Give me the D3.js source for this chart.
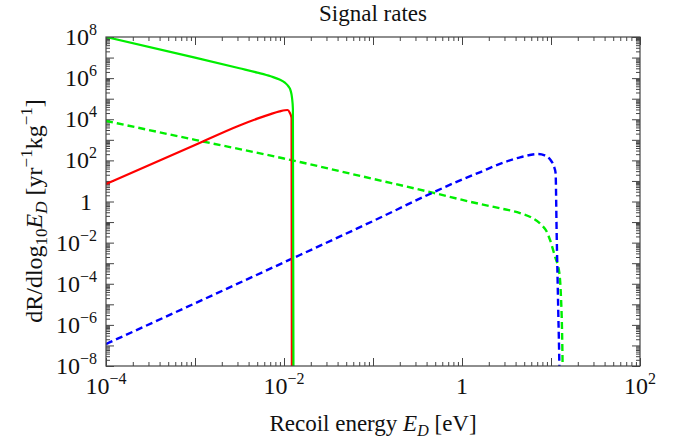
<!DOCTYPE html>
<html><head><meta charset="utf-8">
<script src="https://cdn.jsdelivr.net/npm/d3@7"></script>
<style>
body{margin:0;background:#fff;}
svg{display:block;font-family:"Liberation Serif","Times New Roman",serif;}
</style></head><body>
<svg id="chart" width="681" height="441"></svg>
<script>
// ---------- data ----------
const chartTitle = "Signal rates";
const xDomain = [1e-4, 1e2];
const yDomain = [1e-8, 1e8];
const xLabelValues = [1e-4, 1e-2, 1, 1e2];
const xLabelExps   = ["−4", "−2", "", "2"];
const yLabelValues = [1e8, 1e6, 1e4, 1e2, 1, 1e-2, 1e-4, 1e-6, 1e-8];
const yLabelExps   = ["8", "6", "4", "2", "", "−2", "−4", "−6", "−8"];

// green solid
const greenSolidE = [1e-4, 1e-3, 3.16e-3, 5.01e-3, 7.08e-3, 8.91e-3, 1.023e-2, 1.122e-2, 1.189e-2, 1.23e-2, 1.259e-2, 1.28e-2];
const greenSolidR = [1e8, 1e7, 3.02e6, 1.86e6, 1.23e6, 8.5e5, 6.0e5, 3.98e5, 2.4e5, 1.12e5, 3.16e4, 1e-10];
// red solid
const redSolidE = [1e-4, 1e-3, 3.16e-3, 5.01e-3, 7.08e-3, 8.91e-3, 1.023e-2, 1.096e-2, 1.161e-2, 1.216e-2, 1.227e-2];
const redSolidR = [7.1, 560, 5000, 1.07e4, 1.78e4, 2.4e4, 2.75e4, 2.82e4, 2.09e4, 1.17e4, 1e-10];
// green dashed
const greenDashE = [1e-4, 1e-3, 1e-2, 1.51e-2, 0.1, 0.468, 1.585, 2.67, 4.49, 6.03, 7.83, 8.91, 9.75, 11.09, 12.42, 12.94, 13.30, 13.49, 13.65];
const greenDashR = [8300, 1000, 123, 83, 12.6, 2.69, 0.76, 0.468, 0.275, 0.166, 0.0724, 0.0355, 0.0135, 2.09e-3, 3.24e-4, 2.34e-5, 5.6e-7, 1.38e-8, 1e-10];
// blue dashed
const blueDashE = [1e-4, 1e-3, 1e-2, 1.51e-2, 0.1, 0.468, 1, 1.585, 2.67, 4.49, 7.19, 8.51, 9.75, 10.47, 10.96, 11.27, 11.56, 12.08, 12.42, 12.59];
const blueDashR = [1.17e-7, 1.12e-5, 1.1e-3, 2.5e-3, 0.112, 2.69, 11.7, 26.3, 67.6, 141, 204, 174, 112, 70.8, 41.7, 23.4, 0.0407, 3.6e-6, 1e-8, 1e-10];

// ---------- drawing ----------
const svg = d3.select("#chart");
const m = {l: 106, r: 640, t: 37, b: 366};
const x = d3.scaleLog().domain(xDomain).range([m.l, m.r]);
const y = d3.scaleLog().domain(yDomain).range([m.b, m.t]);

const frameColor = "#444";

svg.append("defs").append("clipPath").attr("id", "clip")
  .append("rect").attr("x", m.l).attr("y", m.t).attr("width", m.r - m.l).attr("height", m.b - m.t);

// ticks
function decadeTicks(lo, hi) { const a = []; for (let d = lo; d <= hi; d++) a.push(Math.pow(10, d)); return a; }
function minorTicks(lo, hi) { const a = []; for (let d = lo; d < hi; d++) for (let k = 2; k <= 9; k++) a.push(k * Math.pow(10, d)); return a; }
const xMaj = decadeTicks(-4, 2), xMin = minorTicks(-4, 2);
const yMaj = decadeTicks(-8, 8), yMin = minorTicks(-8, 8);

function addAxis(gen, tx, ty, vals, size) {
  const g = svg.append("g").attr("transform", `translate(${tx},${ty})`)
    .call(gen.tickValues(vals).tickSize(-size).tickSizeOuter(0).tickFormat(""));
  g.select(".domain").remove();
  g.selectAll("line").attr("stroke", frameColor).attr("stroke-width", 1);
  g.selectAll("text").remove();
}
addAxis(d3.axisBottom(x), 0, m.b, xMaj, 8);
addAxis(d3.axisBottom(x), 0, m.b, xMin, 4);
addAxis(d3.axisTop(x), 0, m.t, xMaj, 8);
addAxis(d3.axisTop(x), 0, m.t, xMin, 4);
addAxis(d3.axisLeft(y), m.l, 0, yMaj, 8);
addAxis(d3.axisLeft(y), m.l, 0, yMin, 4);
addAxis(d3.axisRight(y), m.r, 0, yMaj, 8);
addAxis(d3.axisRight(y), m.r, 0, yMin, 4);

// curves
const line = d3.line().x(d => x(d[0])).y(d => y(d[1])).curve(d3.curveMonotoneX);
const plot = svg.append("g").attr("clip-path", "url(#clip)");
function drawSeries(E, R, color, dash) {
  const pts = E.map((e, i) => [e, R[i]]);
  const p = plot.append("path").attr("d", line(pts)).attr("fill", "none")
    .attr("stroke", color).attr("stroke-width", dash ? 2.4 : 2.2).attr("stroke-linejoin", "round");
  if (dash) p.attr("stroke-dasharray", dash);
}
drawSeries(greenDashE, greenDashR, "#00ee00", "7,4");
drawSeries(blueDashE, blueDashR, "#0000ff", "7,4");
drawSeries(redSolidE, redSolidR, "#ff0000", null);
drawSeries(greenSolidE, greenSolidR, "#00ee00", null);

// frame
svg.append("rect").attr("x", m.l).attr("y", m.t).attr("width", m.r - m.l).attr("height", m.b - m.t)
  .attr("fill", "none").attr("stroke", frameColor).attr("stroke-width", 1.2);

// tick labels
const fs = 24, sfs = 16;
xLabelValues.forEach((v, i) => {
  const t = svg.append("text").attr("x", x(v)).attr("y", 394).attr("text-anchor", "middle")
    .attr("font-size", fs).attr("fill", "#111");
  if (xLabelExps[i] === "") { t.text("1"); return; }
  t.append("tspan").text("10");
  t.append("tspan").attr("dy", -10).attr("font-size", sfs).text(xLabelExps[i]);
});
yLabelValues.forEach((v, i) => {
  const t = svg.append("text").attr("x", yLabelExps[i] === "" ? 92 : 97).attr("y", y(v) + 8)
    .attr("text-anchor", "end").attr("font-size", fs).attr("fill", "#111");
  if (yLabelExps[i] === "") { t.text("1"); return; }
  t.append("tspan").text("10");
  t.append("tspan").attr("dy", -10).attr("font-size", sfs).text(yLabelExps[i]);
});

// title
svg.append("text").attr("x", (m.l + m.r) / 2).attr("y", 21).attr("text-anchor", "middle")
  .attr("font-size", 23).attr("fill", "#111").text(chartTitle);

// x axis title
const xt = svg.append("text").attr("x", (m.l + m.r) / 2).attr("y", 431).attr("text-anchor", "middle")
  .attr("font-size", 23).attr("fill", "#111");
xt.append("tspan").text("Recoil energy ");
xt.append("tspan").attr("font-style", "italic").text("E");
xt.append("tspan").attr("font-style", "italic").attr("font-size", 16).attr("dy", 5).text("D");
xt.append("tspan").attr("dy", -5).text(" [eV]");

// y axis title
const yt = svg.append("text").attr("transform", "translate(42,211) rotate(-90)").attr("text-anchor", "middle")
  .attr("font-size", 24).attr("fill", "#111");
yt.append("tspan").text("dR/dlog");
yt.append("tspan").attr("font-size", 17).attr("dy", 5).text("10");
yt.append("tspan").attr("font-style", "italic").attr("dy", -5).text("E");
yt.append("tspan").attr("font-style", "italic").attr("font-size", 17).attr("dy", 5).text("D");
yt.append("tspan").attr("dy", -5).text(" [yr");
yt.append("tspan").attr("font-size", 17).attr("dy", -10).text("−1");
yt.append("tspan").attr("dy", 10).text("kg");
yt.append("tspan").attr("font-size", 17).attr("dy", -10).text("−1");
yt.append("tspan").attr("dy", 10).text("]");
</script>
</body></html>
